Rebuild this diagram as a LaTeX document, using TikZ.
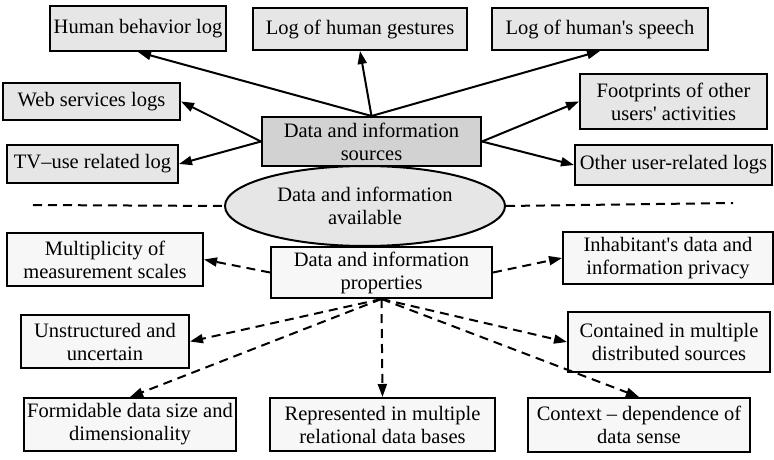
\documentclass[tikz,border=0pt]{standalone}
\usepackage{fontspec}
\setmainfont{Liberation Serif}
\usetikzlibrary{arrows.meta,shapes.geometric}
\definecolor{boxgray}{HTML}{E6E6E6}
\definecolor{srcgray}{HTML}{D2D2D2}
\definecolor{propwhite}{HTML}{F7F7F7}
\newcommand{\apos}{\textquotesingle}
\begin{document}
\begin{tikzpicture}[x=1pt,y=-1pt,
  font=\fontsize{20.5}{23}\selectfont,
  box/.style={draw,line width=2pt,inner sep=0pt,align=center},
  logbox/.style={box,fill=boxgray},
  propbox/.style={box,fill=propwhite},
  solidarrow/.style={line width=2pt,-{Triangle[length=13pt,width=9pt]}},
  dasharrow/.style={line width=2pt,dash pattern=on 9pt off 6pt,-{Triangle[length=13pt,width=9pt]}},
  divider/.style={line width=2pt,dash pattern=on 9pt off 6pt}]
\useasboundingbox (0,0) rectangle (774,460);

% sources and their logs
\node[box,fill=srcgray,minimum width=219pt,minimum height=49pt] (src) at (371.5,141.5) {Data and information\\sources};
\node[logbox,minimum width=176pt,minimum height=45pt] (hbl) at (138,28.5) {Human behavior log};
\node[logbox,minimum width=214pt,minimum height=42pt] (gest) at (360,29) {Log of human gestures};
\node[logbox,minimum width=216pt,minimum height=42pt] (speech) at (600,29) {Log of human\apos s speech};
\node[logbox,minimum width=177pt,minimum height=37pt] (web) at (91.5,101.5) {Web services logs};
\node[logbox,minimum width=171pt,minimum height=38pt] (tv) at (92.5,164) {TV–use related log};
\node[logbox,minimum width=187pt,minimum height=55pt] (foot) at (673.5,101.5) {Footprints of other\\users\apos{} activities};
\node[logbox,minimum width=197pt,minimum height=40pt] (other) at (673.5,165) {Other user-related logs};

% available data and the divider
\node[ellipse,draw,line width=2pt,fill=boxgray,inner sep=0pt,align=center,
      minimum width=280pt,minimum height=80pt] (ell) at (365,206) {Data and information\\available};
\coordinate (dl) at (33,205);
\coordinate (dr) at (733,203);

% properties
\node[propbox,minimum width=221pt,minimum height=51pt] (prop) at (381.5,272.5) {Data and information\\properties};
\node[propbox,minimum width=196pt,minimum height=53pt] (mult) at (105,259.5) {Multiplicity of\\measurement scales};
\node[propbox,minimum width=210pt,minimum height=52pt] (inh) at (668,258) {Inhabitant\apos s data and\\information privacy};
\node[propbox,minimum width=168pt,minimum height=53pt] (unst) at (105,341.5) {Unstructured and\\uncertain};
\node[propbox,minimum width=202pt,minimum height=60pt] (cont) at (669,342) {Contained in multiple\\distributed sources};
\node[propbox,minimum width=212pt,minimum height=53pt] (form) at (130,424.5) {Formidable data size and\\dimensionality};
\node[propbox,minimum width=225pt,minimum height=53pt] (rep) at (382.5,424.5) {Represented in multiple\\relational data bases};
\node[propbox,minimum width=222pt,minimum height=54pt] (ctx) at (639,425) {Context – dependence of\\data sense};

% solid connectors
\draw[solidarrow] (src.north) -- (hbl.south);
\draw[solidarrow] (src.north) -- (gest.south);
\draw[solidarrow] (src.north) -- (speech.south);
\draw[solidarrow] (src.west) -- (web.east);
\draw[solidarrow] (src.west) -- (tv.east);
\draw[solidarrow] (src.east) -- (foot.west);
\draw[solidarrow] (src.east) -- (other.west);

% dividers
\draw[divider] (dl) -- (ell.west);
\draw[divider] (ell.east) -- (dr);

% dashed connectors
\draw[dasharrow] (prop.west) -- (mult.east);
\draw[dasharrow] (prop.east) -- (inh.west);
\draw[dasharrow] (prop.south) -- (unst.east);
\draw[dasharrow] (prop.south) -- (form.north);
\draw[dasharrow] (prop.south) -- (rep.north);
\draw[dasharrow] (prop.south) -- (cont.west);
\draw[dasharrow] (prop.south) -- (ctx.north);
\end{tikzpicture}
\end{document}
